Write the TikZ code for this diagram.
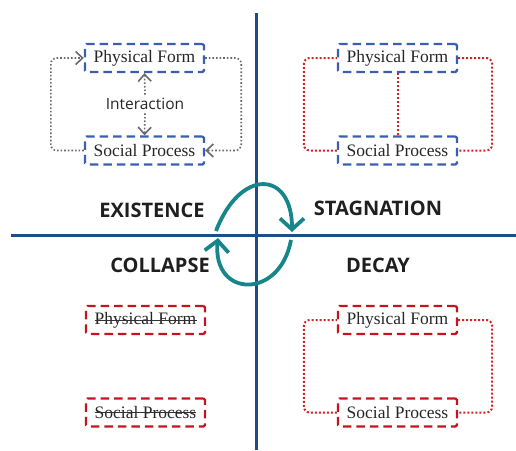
\documentclass[tikz,border=0pt]{standalone}
\usepackage{fontspec}
\setmainfont{Liberation Serif}
\newfontfamily\labelfont{Open Sans}
\newfontfamily\headfont{Open Sans}[UprightFont=* Bold]
\usetikzlibrary{arrows.meta}

\definecolor{axisblue}{HTML}{1B4F8A}
\definecolor{boxblue}{HTML}{3A5FB0}
\definecolor{boxred}{HTML}{C4141E}
\definecolor{dotred}{HTML}{D42222}
\definecolor{loopgray}{HTML}{6A6A6A}
\definecolor{cycleteal}{HTML}{16868A}

\tikzset{
  axis/.style={draw=axisblue, line width=3pt},
  boxtext/.style={font=\fontsize{17.5}{18}\selectfont, text=black!85},
  statebox/.style={draw, dash pattern=on 8.5pt off 5pt, line width=2.4pt,
    rounded corners=1.5pt, minimum width=119pt, minimum height=28pt,
    inner sep=0pt, boxtext},
  bluebox/.style={statebox, draw=boxblue},
  redbox/.style={statebox, draw=boxred},
  striketext/.style={boxtext, inner sep=0pt},
  strike/.style={draw=black!80, line width=0.8pt},
  grayloop/.style={draw=loopgray, line width=1.6pt, dash pattern=on 1.6pt off 2pt,
    rounded corners=6pt, -{Straight Barb[length=7pt,width=13pt,line width=1.6pt]}},
  redloop/.style={draw=dotred, line width=2pt, dash pattern=on 2pt off 2pt,
    rounded corners=6pt},
  quadlabel/.style={font=\headfont\fontsize{20}{21}\selectfont, text=black!88},
  cycle/.style={draw=cycleteal, line width=3.8pt,
    -{Straight Barb[length=11pt,width=24pt,line width=3.8pt]}}
}

\begin{document}
\begin{tikzpicture}[x=1pt,y=-1pt]
  \useasboundingbox (0,0) rectangle (516,450);

  % axes
  \draw[axis] (256,13) -- (256,450);
  \draw[axis] (11,235) -- (516,235);

  % quadrant labels
  \node[quadlabel] (existence) at (152,210) {EXISTENCE};
  \node[quadlabel] (stagnation) at (378,208) {STAGNATION};
  \node[quadlabel] (collapse) at (160,265) {COLLAPSE};
  \node[quadlabel] (decay) at (378,265) {DECAY};

  % existence: form and process reinforce each other
  \node[bluebox] (tlpf) at (144.5,58) {Physical Form};
  \node[bluebox] (tlsp) at (144.5,150.5) {Social Process};
  \node[font=\labelfont\fontsize{15.5}{16}\selectfont, text=black!85] (inter) at (145,104) {Interaction};
  \draw[grayloop] (tlpf.east) -- ++(36,0) |- (tlsp.east);
  \draw[grayloop] (tlsp.west) -- ++(-33,0) |- (tlpf.west);
  \draw[grayloop] (inter.north) -- (tlpf.south);
  \draw[grayloop] (inter.south) -- (tlsp.north);

  % stagnation: links remain but nothing flows
  \node[bluebox] (trpf) at (397.5,58) {Physical Form};
  \node[bluebox] (trsp) at (397.5,150.5) {Social Process};
  \draw[redloop] (trpf.east) -- ++(34,0) |- (trsp.east);
  \draw[redloop] (trsp.west) -- ++(-33,0) |- (trpf.west);
  \draw[redloop] (trpf.south) -- (trsp.north);

  % collapse: both elements struck out
  \node[redbox] (blpf) at (145.5,320) {};
  \node[striketext] (blpft) at (blpf) {Physical Form};
  \draw[strike] (blpft.west) -- (blpft.east);
  \node[redbox] (blsp) at (145.5,412.5) {};
  \node[striketext] (blspt) at (blsp) {Social Process};
  \draw[strike] (blspt.west) -- (blspt.east);

  % decay: outer link only
  \node[redbox] (brpf) at (397.5,320) {Physical Form};
  \node[redbox] (brsp) at (397.5,412.5) {Social Process};
  \draw[redloop] (brpf.east) -- ++(34,0) |- (brsp.east);
  \draw[redloop] (brsp.west) -- ++(-33,0) |- (brpf.west);

  % cycle between the quadrants
  \draw[cycle] (216,231) .. controls (240,168) and (292,170) .. (292,232);
  \draw[cycle] (291,240) .. controls (280,300) and (212,298) .. (218,238);
\end{tikzpicture}
\end{document}
